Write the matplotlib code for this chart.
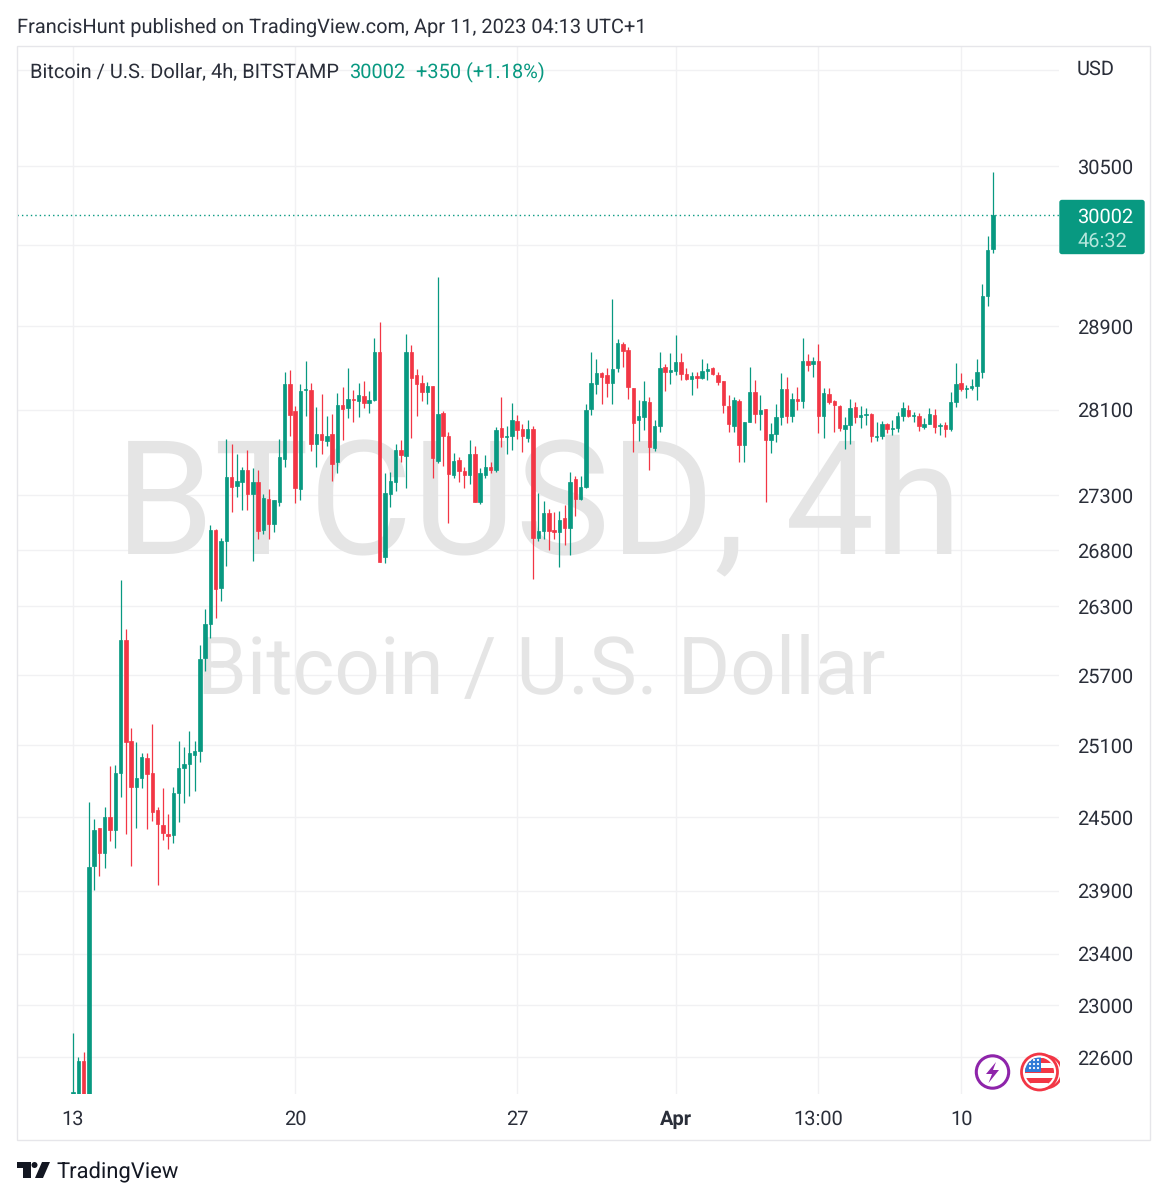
import numpy as np
import matplotlib
matplotlib.use("Agg")
import matplotlib.pyplot as plt
from matplotlib.patches import Circle, Rectangle, Polygon, FancyBboxPatch

plt.rcParams['font.family'] = ['Roboto', 'DejaVu Sans']
plt.rcParams['text.hinting'] = 'no_hinting'
plt.rcParams['text.hinting_factor'] = 1

# --- 4h candles ---
opens = [22300, 22250, 22570, 22250, 24100, 24410, 24205, 24500, 24394, 24867,
         26004, 25135, 24750, 24825, 24992, 24867, 24559, 24436, 24361, 24353,
         24700, 24908, 24942, 25017, 25050, 25847, 26145, 26985, 26463, 26885,
         27470, 27387, 27425, 27535, 27313, 27425, 26985, 27267, 27040, 27240,
         27637, 28344, 28087, 27359, 28287, 28287, 27776, 27870, 27805, 27870,
         27609, 28144, 28116, 28200, 28182, 28229, 28163, 28191, 28650, 26741,
         27313, 27425, 27720, 27665, 28650, 28430, 28353, 28268, 28325, 27618,
         28069, 27852, 27489, 27628, 27526, 27489, 27683, 27240, 27489, 27563,
         27535, 27927, 27842, 27852, 27994, 27918, 27833, 27918, 26912, 26976,
         27140, 26985, 26967, 27094, 27003, 27452, 27267, 27378, 28106, 28344,
         28449, 28430, 28353, 28497, 28727, 28669, 28306, 28003, 28031, 28172,
         27739, 27946, 28506, 28459, 28468, 28554, 28440, 28392, 28420, 28401,
         28468, 28497, 28430, 28372, 28135, 27946, 28182, 27767, 27984, 28268,
         28059, 28106, 27814, 27870, 28031, 28297, 28040, 28200, 28182, 28563,
         28535, 28563, 28040, 28248, 28182, 28135, 27918, 27956, 28125, 28031,
         28050, 28059, 27842, 27852, 27965, 27920, 27927, 28040, 28097, 28040,
         28040, 27937, 27965, 28050, 27946, 27956, 27918, 28172, 28353, 28297,
         28306, 28325, 28459, 29194, 29660]
highs = [22780, 22600, 22640, 24625, 24485, 24410, 24585, 24925, 24933, 26535,
         26100, 25246, 25127, 25034, 25034, 25280, 24585, 24742, 24526, 24750,
         25135, 25084, 25220, 25135, 25960, 26277, 27030, 26994, 26912, 27823,
         27776, 27683, 27563, 27720, 27553, 27535, 27313, 27359, 27258, 27823,
         28459, 28478, 28135, 28344, 28563, 28353, 28125, 28248, 28040, 28059,
         28258, 28316, 28497, 28287, 28353, 28372, 28277, 28785, 28940, 27507,
         27517, 27776, 27814, 28824, 28717, 28487, 28430, 28363, 28325, 29381,
         28087, 27889, 27692, 27655, 27563, 27814, 27757, 27553, 27674, 27609,
         27937, 28220, 27946, 28163, 28050, 27965, 28003, 27946, 27322, 27249,
         27176, 27149, 27158, 27212, 27517, 27480, 27480, 28154, 28650, 28583,
         28459, 28497, 29165, 28776, 28747, 28698, 28306, 28191, 28372, 28220,
         28003, 28650, 28535, 28640, 28814, 28640, 28497, 28459, 28459, 28583,
         28545, 28506, 28459, 28372, 28239, 28220, 28200, 27984, 28506, 28382,
         28239, 28106, 27974, 28154, 28449, 28411, 28258, 28316, 28785, 28630,
         28602, 28727, 28306, 28306, 28191, 28144, 28031, 28200, 28172, 28135,
         28116, 28069, 27984, 27994, 27974, 28003, 28078, 28172, 28144, 28078,
         28069, 28022, 28116, 28106, 27974, 27984, 28268, 28545, 28449, 28334,
         28392, 28583, 29312, 29790, 30438]
lows = [22200, 22200, 22200, 22200, 23906, 24019, 24085, 24304, 24246, 24666,
        24361, 24100, 24410, 24742, 24402, 24469, 23947, 24312, 24238, 24287,
        24460, 24616, 24675, 24716, 24958, 25734, 26022, 26198, 26347, 26660,
        27149, 27286, 27167, 27167, 26705, 26903, 26949, 26903, 26967, 27203,
        27563, 27852, 27231, 27258, 28040, 27711, 27563, 27683, 27757, 27434,
        27507, 27814, 28022, 27984, 28031, 28116, 28069, 28182, 26696, 26687,
        27194, 27341, 27609, 27368, 27833, 28040, 28182, 28154, 27461, 27600,
        27572, 27049, 27461, 27425, 27368, 27406, 27240, 27221, 27461, 27507,
        27517, 27748, 27683, 27720, 27823, 27702, 27795, 26544, 26885, 26903,
        26803, 26903, 26651, 26848, 26758, 27112, 27258, 27368, 28050, 28248,
        28154, 28220, 28154, 28459, 28506, 28200, 27702, 27805, 27908, 27535,
        27711, 27889, 28277, 28344, 28430, 28382, 28382, 28239, 28306, 28392,
        28382, 28430, 28334, 28069, 27889, 27889, 27609, 27609, 27984, 27974,
        27908, 27240, 27692, 27795, 27956, 27974, 27984, 28097, 28116, 28468,
        28411, 27880, 27833, 28154, 27889, 27899, 27729, 27776, 27974, 27927,
        27956, 27795, 27805, 27823, 27880, 27861, 27889, 27994, 28031, 27984,
        27899, 27918, 27960, 27880, 27861, 27842, 27899, 28125, 28277, 28210,
        28287, 28191, 28401, 29097, 29620]
closes = [22335, 22570, 22250, 24092, 24394, 24205, 24500, 24394, 24867, 26004,
          25127, 24750, 24825, 25000, 24858, 24543, 24444, 24370, 24345, 24700,
          24908, 24942, 25034, 25050, 25838, 26145, 26985, 26454, 26885, 27470,
          27378, 27434, 27535, 27313, 27425, 26976, 27276, 27040, 27258, 27655,
          28344, 28050, 27368, 28277, 28297, 27776, 27870, 27814, 27852, 27590,
          28144, 28106, 28200, 28191, 28239, 28163, 28191, 28650, 26696, 27322,
          27434, 27720, 27674, 28650, 28401, 28344, 28268, 28325, 27646, 28059,
          27852, 27498, 27618, 27526, 27489, 27683, 27240, 27507, 27563, 27535,
          27908, 27842, 27852, 28003, 27908, 27852, 27918, 26912, 26976, 27140,
          26976, 26967, 27076, 27003, 27425, 27267, 27378, 28097, 28353, 28449,
          28411, 28353, 28487, 28737, 28660, 28316, 27974, 28040, 28182, 27748,
          27946, 28497, 28459, 28478, 28554, 28440, 28392, 28420, 28401, 28468,
          28487, 28440, 28363, 28144, 27965, 28191, 27767, 27984, 28268, 28059,
          28097, 27814, 27870, 28031, 28297, 28040, 28200, 28182, 28563, 28525,
          28563, 28040, 28258, 28172, 28144, 27927, 27956, 28116, 28031, 28050,
          28059, 27852, 27852, 27965, 27918, 27927, 28040, 28116, 28040, 28050,
          27946, 27965, 28059, 27937, 27956, 27918, 28172, 28344, 28297, 28306,
          28325, 28459, 29194, 29650, 30002]

# tick labels
price_ticks = [31500, 30500, 29700, 28900, 28100, 27300, 26800, 26300, 25700,
               25100, 24500, 23900, 23400, 23000, 22600]
price_labels = ['', '30500', '', '28900', '28100', '27300', '26800', '26300',
                '25700', '25100', '24500', '23900', '23400', '23000', '22600']
time_ticks = [0, 42, 84, 114, 141, 168]
time_labels = ['13', '20', '27', 'Apr', '13:00', '10']
last_price = 30002

GREEN = '#089981'
RED = '#f23645'
TEXT = '#2a2e39'
GRID = '#f1f1f3'
FS = 14.55

fig = plt.figure(figsize=(11.67, 12), dpi=100, facecolor='white')

# 1167x1200 の座標で置くための上書き用 axes
over = fig.add_axes([0, 0, 1, 1], zorder=5)
over.set_xlim(0, 1167)
over.set_ylim(1200, 0)
over.axis('off')
over.patch.set_alpha(0)

ax = fig.add_axes([17 / 1167, 1 - 1094 / 1200, 1042 / 1167, 1048 / 1200], zorder=1)
ax.set_yscale('log')
ax.set_xlim(-10.6, 186.5)
ax.set_ylim(22320, 31757)
for s in ax.spines.values():
    s.set_visible(False)

# --- ticks and grid ---
ax.yaxis.tick_right()
ax.minorticks_off()
ax.set_yticks(price_ticks)
ax.set_yticklabels(price_labels)
ax.set_xticks(time_ticks)
ax.set_xticklabels(time_labels)
ax.tick_params(axis='y', which='both', length=0, pad=13, labelsize=FS, labelcolor=TEXT)
ax.tick_params(axis='y', which='minor', labelright=False)
ax.tick_params(axis='x', length=0, pad=11.5, labelsize=FS, labelcolor=TEXT)
ax.get_xticklabels()[3].set_fontweight('bold')
ax.grid(True, color=GRID, lw=1.0, which='major')
ax.set_axisbelow(True)

# --- watermark ---
ax.text(538.5, 553, 'BTCUSD, 4h', transform=over.transData, ha='center', va='baseline',
        fontsize=114.6, color='#e5e5e5', zorder=0.6)
ax.text(541.5, 693, 'Bitcoin / U.S. Dollar', transform=over.transData, ha='center', va='baseline',
        fontsize=57.8, color='#e5e5e5', zorder=0.6)

# --- candles ---
idx = np.arange(len(opens))
o, h, l, c = map(np.array, (opens, highs, lows, closes))
colors = np.where(c >= o, GREEN, RED)
ax.vlines(idx, l, h, colors=colors, lw=0.9, zorder=2)
ax.bar(idx, np.abs(c - o), bottom=np.minimum(o, c), width=0.65, color=colors,
       edgecolor=colors, lw=0.5, zorder=3)

ax.axhline(last_price, color=GREEN, lw=1.0, ls=(0, (1, 2.2)), zorder=1.5)

# --- outer frame ---
over.add_patch(Rectangle((17, 46), 1133, 1094, fill=False, ec='#e6e6ea', lw=1.0))

# --- header ---
over.text(17, 27.5, 'FrancisHunt published on TradingView.com, Apr 11, 2023 04:13 UTC+1',
          fontsize=FS, color=TEXT, va='center', ha='left')
over.text(30, 72, 'Bitcoin / U.S. Dollar, 4h, BITSTAMP', fontsize=FS, color=TEXT, va='center')
over.text(349, 72, '30002', fontsize=FS, color=GREEN, va='center')
over.text(416, 72, '+350 (+1.18%)', fontsize=FS, color=GREEN, va='center')
over.text(1077, 69.5, 'USD', fontsize=FS, color=TEXT, va='center')

# --- last price tag ---
over.add_patch(FancyBboxPatch((1060, 200.5), 84, 53, boxstyle='round,pad=0,rounding_size=2',
                              fc=GREEN, ec=GREEN, lw=1))
over.text(1077, 217.5, str(last_price), fontsize=FS, color='white', va='center')
over.text(1077, 241.5, '46:32', fontsize=FS, color='#b5e6dc', va='center')

# --- event icons ---
over.add_patch(Circle((992.5, 1072), 16.2, fill=False, ec='#8e24aa', lw=2.2))
over.add_patch(Polygon([(996, 1062), (986, 1074), (992, 1074), (988.5, 1083),
                        (999, 1070), (993, 1070)], closed=True, fc='#8e24aa', ec='none'))

clip = Rectangle((960, 1040), 99.5, 60, transform=over.transData)
ring = Circle((1046, 1072), 16, fill=False, ec='#f23645', lw=1.8)
over.add_patch(ring)
ring.set_clip_path(clip)
over.add_patch(Circle((1039.5, 1072), 18, fc='white', ec='#f23645', lw=2))
flag = Circle((1039.5, 1072), 14.5, transform=over.transData)
stripes = [(1058, RED), (1063, 'white'), (1068, RED), (1073, 'white'), (1078, RED), (1083, 'white')]
for y0, col in stripes:
    r = Rectangle((1024, y0), 32, 5.5, fc=col, ec='none')
    over.add_patch(r)
    r.set_clip_path(flag)
r = Rectangle((1024, 1056), 17, 16, fc='#2f7ad6', ec='none')
over.add_patch(r)
r.set_clip_path(flag)
for yy in (1060, 1064, 1068):
    for xx in (1030, 1034, 1038):
        over.add_patch(Circle((xx, yy), 1.1, fc='white', ec='none'))

# --- TradingView logo ---
LOGO = '#131722'
over.add_patch(Polygon([(17, 1162), (31, 1162), (31, 1178), (23, 1178), (23, 1168), (17, 1168)],
                       closed=True, fc=LOGO, ec='none'))
over.add_patch(Circle((34.5, 1165), 3, fc=LOGO, ec='none'))
over.add_patch(Polygon([(42, 1162), (50, 1162), (43, 1178), (35, 1178)], closed=True, fc=LOGO, ec='none'))
over.text(56, 1172.5, 'TradingView', fontsize=15.5, color=LOGO, va='center')

fig.savefig('out.png', dpi=100, facecolor='white')
